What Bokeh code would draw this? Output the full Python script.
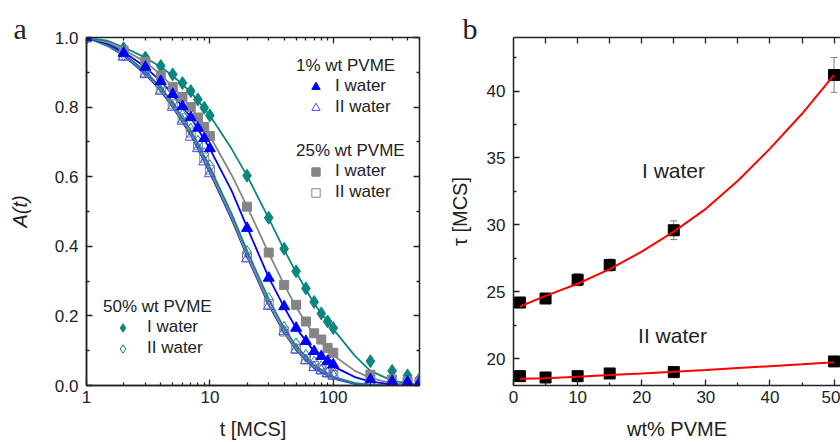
import math
from bokeh.plotting import figure
from bokeh.models import (LogAxis, LinearAxis, FixedTicker, PrintfTickFormatter, Legend,
                          LegendItem, Label, Whisker, TeeHead, ColumnDataSource, Range1d, Title)
from bokeh.layouts import row
from bokeh.embed import file_html
from bokeh.resources import INLINE

# ---------------- data: panel a ----------------
T = [1, 2, 3, 4, 5, 6, 7, 8, 9, 10, 20, 30, 40, 50, 60, 70, 80, 90, 100, 200, 300, 400, 500]
A_1_I = [1.0, 0.955, 0.915, 0.874, 0.837, 0.802, 0.770, 0.740, 0.710, 0.681, 0.452, 0.309, 0.227,
         0.165, 0.127, 0.098, 0.084, 0.070, 0.060, 0.017, 0.012, 0.010, 0.008]
A_1_II = [1.0, 0.944, 0.894, 0.846, 0.800, 0.760, 0.714, 0.681, 0.643, 0.609, 0.364, 0.228, 0.155,
          0.103, 0.072, 0.052, 0.043, 0.035, 0.028, 0.005, 0.003, 0.002, 0.002]
A_25_I = [1.0, 0.962, 0.930, 0.891, 0.858, 0.829, 0.800, 0.770, 0.743, 0.717, 0.514, 0.382, 0.289,
          0.232, 0.184, 0.150, 0.132, 0.108, 0.094, 0.031, 0.017, 0.012, 0.010]
A_25_II = [1.0, 0.948, 0.900, 0.853, 0.808, 0.768, 0.727, 0.690, 0.655, 0.620, 0.370, 0.235, 0.155,
           0.105, 0.075, 0.056, 0.046, 0.037, 0.030, 0.006, 0.003, 0.002, 0.002]
A_50_I = [1.0, 0.969, 0.942, 0.918, 0.894, 0.869, 0.846, 0.822, 0.798, 0.776, 0.603, 0.482, 0.393,
          0.328, 0.279, 0.240, 0.207, 0.184, 0.165, 0.070, 0.042, 0.029, 0.019]
A_50_II = [1.0, 0.952, 0.905, 0.860, 0.815, 0.775, 0.735, 0.700, 0.665, 0.630, 0.383, 0.248, 0.165,
           0.118, 0.085, 0.065, 0.052, 0.043, 0.036, 0.008, 0.004, 0.003, 0.002]

# fitted curves
FIT_T = [1, 1.5, 2, 3, 4, 5, 7, 10, 15, 20, 30, 40, 50, 70, 100, 150, 200, 300, 500]
F_50_I = [1.0, 0.99, 0.972, 0.942, 0.915, 0.89, 0.843, 0.776, 0.68, 0.603, 0.48, 0.39, 0.325,
          0.235, 0.162, 0.085, 0.042, 0.014, 0.001]
F_25_I = [1.0, 0.985, 0.965, 0.93, 0.893, 0.858, 0.80, 0.717, 0.605, 0.515, 0.38, 0.29, 0.225,
          0.145, 0.087, 0.042, 0.022, 0.006, 0.0]
F_1_I = [1.0, 0.982, 0.958, 0.915, 0.874, 0.837, 0.77, 0.68, 0.56, 0.455, 0.31, 0.225, 0.165,
         0.098, 0.055, 0.024, 0.011, 0.003, 0.0]
F_1_II = [1.0, 0.975, 0.948, 0.895, 0.847, 0.80, 0.72, 0.612, 0.478, 0.372, 0.232, 0.152, 0.102,
          0.05, 0.02, 0.005, 0.001, 0.0, 0.0]
F_25_II = [1.0, 0.976, 0.95, 0.898, 0.85, 0.804, 0.724, 0.617, 0.483, 0.376, 0.236, 0.155, 0.105,
           0.053, 0.022, 0.006, 0.002, 0.0, 0.0]
F_50_II = [1.0, 0.978, 0.953, 0.903, 0.857, 0.812, 0.733, 0.627, 0.494, 0.388, 0.248, 0.165, 0.113,
           0.058, 0.025, 0.007, 0.002, 0.0, 0.0]

X_MAJOR_A = [1, 10, 100]
X_MINOR_A = [2, 3, 4, 5, 6, 7, 8, 9, 20, 30, 40, 50, 60, 70, 80, 90, 200, 300, 400, 500]
Y_MAJOR_A = [0.0, 0.2, 0.4, 0.6, 0.8, 1.0]
Y_MINOR_A = [0.1, 0.3, 0.5, 0.7, 0.9]

# ---------------- data: panel b ----------------
WT = [1, 5, 10, 15, 25, 50]
TAU_I = [24.2, 24.5, 25.9, 27.0, 29.6, 41.2]
ERR_I = [0.25, 0.25, 0.45, 0.45, 0.7, 1.3]
TAU_II = [18.7, 18.6, 18.7, 18.9, 19.0, 19.8]
ERR_II = [0.15, 0.15, 0.15, 0.15, 0.15, 0.2]
FIT_WT = [1, 5, 10, 15, 20, 25, 30, 35, 40, 45, 50]
FIT_I = [23.9, 24.7, 25.6, 26.7, 28.0, 29.5, 31.2, 33.3, 35.7, 38.3, 41.2]
FIT_II = [18.5, 18.55, 18.65, 18.78, 18.9, 19.03, 19.16, 19.3, 19.44, 19.58, 19.73]

X_MAJOR_B = [0, 10, 20, 30, 40, 50]
X_MINOR_B = [5, 15, 25, 35, 45]
X_TOP_B = [5, 10, 15, 20, 25, 30, 35, 40, 45, 50]
Y_MAJOR_B = [20, 25, 30, 35, 40]
Y_MINOR_B = [22.5, 27.5, 32.5, 37.5, 42.5]

# ---------------- style / layout ----------------
FONT = "Liberation Sans"
SERIF = "Liberation Serif"
INK = "#222222"
TEAL = "#0d867e"
GRAY = "#858585"
BLUE = "#0000ff"
OPEN_BLUE = "#4a4aff"

FRAME_TOP = 37
FRAME_BOTTOM = 386
A_LEFT = 86
A_RIGHT = 419
A_WIDTH = 440
B_LEFT = 513
TOTAL_W = 840
TOTAL_H = 442


def style_axis(ax, show_labels=True, line=True):
    ax.major_tick_in = 6
    ax.major_tick_out = 0
    ax.minor_tick_in = 3
    ax.minor_tick_out = 0
    ax.major_tick_line_color = INK
    ax.minor_tick_line_color = INK
    ax.major_tick_line_width = 1.3
    ax.minor_tick_line_width = 1.3
    ax.axis_line_color = INK if line else None
    ax.axis_line_width = 1.5
    ax.major_label_text_font = FONT
    ax.major_label_text_color = INK
    ax.axis_label_text_font = FONT
    ax.axis_label_text_font_size = "20px"
    ax.axis_label_text_font_style = "normal"
    ax.axis_label_text_color = INK
    if show_labels:
        ax.major_label_text_font_size = "17px"
    else:
        ax.major_label_text_font_size = "2px"
        ax.major_label_text_alpha = 0
        ax.major_label_standoff = 0


def frame_label(p, left, x, y, text, size="17px", align="left", baseline="alphabetic"):
    # x, y are page pixels; converted to frame-relative screen units
    p.add_layout(Label(x=x - left, y=FRAME_BOTTOM - y, x_units="screen", y_units="screen",
                       text=text, text_font=FONT, text_font_size=size,
                       text_align=align, text_baseline=baseline, text_color=INK))


def panel_title(letter, offset):
    kw = dict(text=letter, align="left", offset=offset, text_font=SERIF,
              text_font_size="30px", text_font_style="normal", text_color=INK,
              vertical_align="bottom")
    try:
        return Title(standoff=-14, **kw)
    except Exception:
        return Title(standoff=0, **kw)


# ================= panel a =================
pa = figure(width=A_WIDTH, height=TOTAL_H, x_axis_type="log", x_range=Range1d(1, 500),
            y_range=Range1d(0, 1.0), output_backend="svg", toolbar_location=None,
            title=panel_title("a", 13 - A_LEFT),
            min_border_left=A_LEFT, min_border_right=A_WIDTH - A_RIGHT,
            min_border_top=FRAME_TOP, min_border_bottom=TOTAL_H - FRAME_BOTTOM)
pa.xgrid.visible = False
pa.ygrid.visible = False
pa.outline_line_color = INK
pa.outline_line_width = 1.5
pa.background_fill_color = "white"
pa.border_fill_color = "white"

pa.xaxis[0].ticker = FixedTicker(ticks=X_MAJOR_A, minor_ticks=X_MINOR_A)
pa.xaxis[0].formatter = PrintfTickFormatter(format="%d")
pa.yaxis[0].ticker = FixedTicker(ticks=Y_MAJOR_A, minor_ticks=Y_MINOR_A)
pa.yaxis[0].formatter = PrintfTickFormatter(format="%.1f")
style_axis(pa.xaxis[0])
style_axis(pa.yaxis[0])
pa.xaxis[0].major_label_standoff = 5
pa.yaxis[0].major_label_standoff = 8
pa.xaxis[0].axis_label = "t [MCS]"
pa.xaxis[0].axis_label_standoff = 12
pa.yaxis[0].axis_label = "A(t)"
pa.yaxis[0].axis_label_text_font_style = "italic"
pa.yaxis[0].axis_label_standoff = 21

top_a = LogAxis(ticker=FixedTicker(ticks=X_MAJOR_A, minor_ticks=X_MINOR_A))
style_axis(top_a, show_labels=False, line=False)
pa.add_layout(top_a, "above")
right_a = LinearAxis(ticker=FixedTicker(ticks=Y_MAJOR_A, minor_ticks=Y_MINOR_A))
style_axis(right_a, show_labels=False, line=False)
pa.add_layout(right_a, "right")

for fy, col in ((F_1_II, BLUE), (F_25_II, GRAY), (F_50_II, TEAL),
                (F_1_I, BLUE), (F_25_I, GRAY), (F_50_I, TEAL)):
    pa.line(FIT_T, fy, line_color=col, line_width=1.8)

r50ii = pa.scatter(T, A_50_II, marker="diamond", size=13, fill_alpha=0, line_color=TEAL, line_width=1)
r25ii = pa.scatter(T, A_25_II, marker="square", size=9, fill_alpha=0, line_color=GRAY, line_width=1)
r1ii = pa.scatter(T, A_1_II, marker="triangle", size=11, fill_alpha=0, line_color=OPEN_BLUE, line_width=1)
r50i = pa.scatter(T, A_50_I, marker="diamond", size=13, fill_color=TEAL, line_color=TEAL)
r25i = pa.scatter(T, A_25_I, marker="square", size=9, fill_color=GRAY, line_color=GRAY)
r1i = pa.scatter(T, A_1_I, marker="triangle", size=11, fill_color=BLUE, line_color=BLUE)


def group_legend(p, title, r_i, r_ii, title_x, item2_y, standoff):
    # item rows are 21 px apart; location = bottom-left corner, frame-relative
    bottom = item2_y + 10.5
    leg = Legend(items=[LegendItem(label="I water", renderers=[r_i]),
                        LegendItem(label="II water", renderers=[r_ii])],
                 title=title, location=(title_x - A_LEFT, FRAME_BOTTOM - bottom),
                 orientation="vertical",
                 title_text_font=FONT, title_text_font_size="17px",
                 title_text_font_style="normal", title_text_color=INK, title_standoff=0,
                 label_text_font=FONT, label_text_font_size="17px", label_text_color=INK,
                 glyph_width=39, glyph_height=21, label_height=21, label_standoff=standoff,
                 spacing=0, padding=0, margin=0, border_line_color=None,
                 background_fill_alpha=0)
    p.add_layout(leg)


group_legend(pa, "1% wt PVME", r1i, r1ii, 296, 108, 0)
group_legend(pa, "25% wt PVME", r25i, r25ii, 296, 193, 0)
group_legend(pa, "50% wt PVME", r50i, r50ii, 103, 349, 5)

# ================= panel b =================
pb = figure(width=TOTAL_W - A_WIDTH, height=TOTAL_H, x_range=Range1d(0, 51.0),
            y_range=Range1d(18, 44), output_backend="svg", toolbar_location=None,
            title=panel_title("b", 462 - B_LEFT),
            min_border_left=B_LEFT - A_WIDTH, min_border_right=0,
            min_border_top=FRAME_TOP, min_border_bottom=TOTAL_H - FRAME_BOTTOM)
pb.xgrid.visible = False
pb.ygrid.visible = False
pb.outline_line_color = None
pb.background_fill_color = "white"
pb.border_fill_color = "white"

pb.xaxis[0].ticker = FixedTicker(ticks=X_MAJOR_B, minor_ticks=X_MINOR_B)
pb.yaxis[0].ticker = FixedTicker(ticks=Y_MAJOR_B, minor_ticks=Y_MINOR_B)
style_axis(pb.xaxis[0])
style_axis(pb.yaxis[0])
pb.xaxis[0].major_label_standoff = 5
pb.yaxis[0].major_label_standoff = 8
pb.xaxis[0].axis_label = "wt% PVME"
pb.xaxis[0].axis_label_standoff = 12
pb.yaxis[0].axis_label = "τ [MCS]"
pb.yaxis[0].axis_label_standoff = 13
top_b = LinearAxis(ticker=FixedTicker(ticks=X_TOP_B, minor_ticks=[]))
style_axis(top_b, show_labels=False, line=True)
pb.add_layout(top_b, "above")

src_i = ColumnDataSource(dict(x=WT, y=TAU_I,
                              lo=[v - e for v, e in zip(TAU_I, ERR_I)],
                              hi=[v + e for v, e in zip(TAU_I, ERR_I)]))
src_ii = ColumnDataSource(dict(x=WT, y=TAU_II,
                               lo=[v - e for v, e in zip(TAU_II, ERR_II)],
                               hi=[v + e for v, e in zip(TAU_II, ERR_II)]))
for src in (src_i, src_ii):
    pb.add_layout(Whisker(source=src, base="x", upper="hi", lower="lo",
                          line_color="#808080", line_width=1,
                          upper_head=TeeHead(size=7, line_color="#808080", line_width=1),
                          lower_head=TeeHead(size=7, line_color="#808080", line_width=1)))
    pb.scatter("x", "y", source=src, marker="square", size=11, fill_color="black",
               line_color="black")

pb.line(FIT_WT, FIT_I, line_color="#ff0000", line_width=2)
pb.line(FIT_WT, FIT_II, line_color="#ff0000", line_width=2)

frame_label(pb, B_LEFT, 673, 171, "I water", size="21px", align="center", baseline="middle")
frame_label(pb, B_LEFT, 672, 336, "II water", size="21px", align="center", baseline="middle")

layout = row(pa, pb)
open("out.html", "w").write(file_html(layout, INLINE))
